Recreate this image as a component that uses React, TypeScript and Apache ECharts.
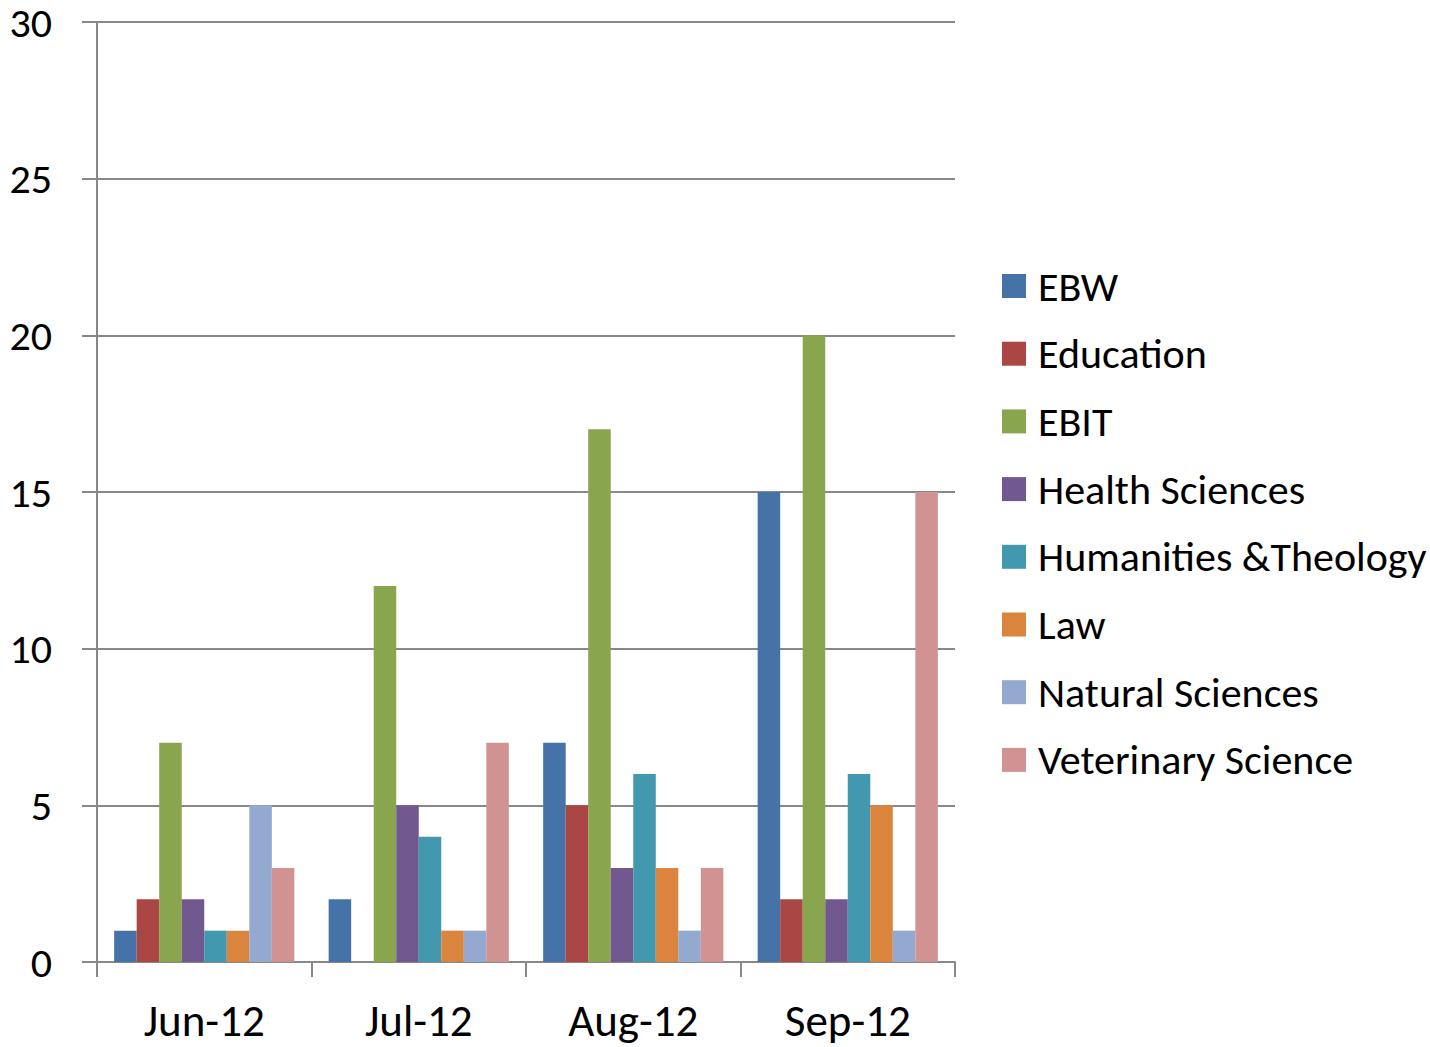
import React, { useEffect, useRef } from "react";
import * as echarts from "echarts";

const categories = ["Jun-12", "Jul-12", "Aug-12", "Sep-12"];
const seriesNames = [
  "EBW",
  "Education",
  "EBIT",
  "Health Sciences",
  "Humanities &Theology",
  "Law",
  "Natural Sciences",
  "Veterinary Science",
];
const ebw = [1, 2, 7, 15];
const education = [2, 0, 5, 2];
const ebit = [7, 12, 17, 20];
const health = [2, 5, 3, 2];
const humanities = [1, 4, 6, 6];
const law = [1, 1, 3, 5];
const natural = [5, 1, 1, 1];
const veterinary = [3, 7, 3, 15];
const seriesValues = [ebw, education, ebit, health, humanities, law, natural, veterinary];
const colors = ["#4572A7", "#AA4643", "#89A54E", "#71588F", "#4198AF", "#DB843D", "#93A9CF", "#D19392"];

const FONT = "Carlito, Lato, sans-serif";

export default function App() {
  const ref = useRef<HTMLDivElement>(null);
  useEffect(() => {
    if (!ref.current) return;
    const chart = echarts.init(ref.current, null, { renderer: "svg" });
    chart.setOption({
      animation: false,
      color: colors,
      textStyle: { fontFamily: FONT },
      grid: { left: 97, top: 22, right: 475, bottom: 85, containLabel: false },
      legend: {
        orient: "vertical",
        left: 1002,
        top: 265,
        padding: 0,
        icon: "rect",
        itemWidth: 24,
        itemHeight: 24,
        itemGap: 25.7,
        data: seriesNames,
        textStyle: { fontFamily: FONT, fontSize: 42, color: "#000", padding: [0, 0, 0, 7] },
      },
      xAxis: {
        type: "category",
        data: categories,
        axisLine: { lineStyle: { color: "#888", width: 2 } },
        axisTick: { show: true, length: 15, lineStyle: { color: "#888", width: 2 } },
        axisLabel: { fontFamily: FONT, fontSize: 45, color: "#000", margin: 36 },
      },
      yAxis: {
        type: "value",
        min: 0,
        max: 30,
        interval: 5,
        axisLine: { show: true, lineStyle: { color: "#888", width: 2 } },
        axisTick: { show: true, length: 15, lineStyle: { color: "#888", width: 2 } },
        axisLabel: { fontFamily: FONT, fontSize: 42, lineHeight: 36, color: "#000", margin: 45 },
        splitLine: { lineStyle: { color: "#888", width: 2 } },
      },
      series: seriesNames.map((name, i) => ({
        name,
        type: "bar",
        data: seriesValues[i],
        barGap: "0%",
        barCategoryGap: "16%",
      })),
    });
    return () => chart.dispose();
  }, []);
  return (
    <div
      ref={ref}
      style={{ position: "fixed", left: 0, top: 0, width: 1430, height: 1047, background: "#fff" }}
    />
  );
}
